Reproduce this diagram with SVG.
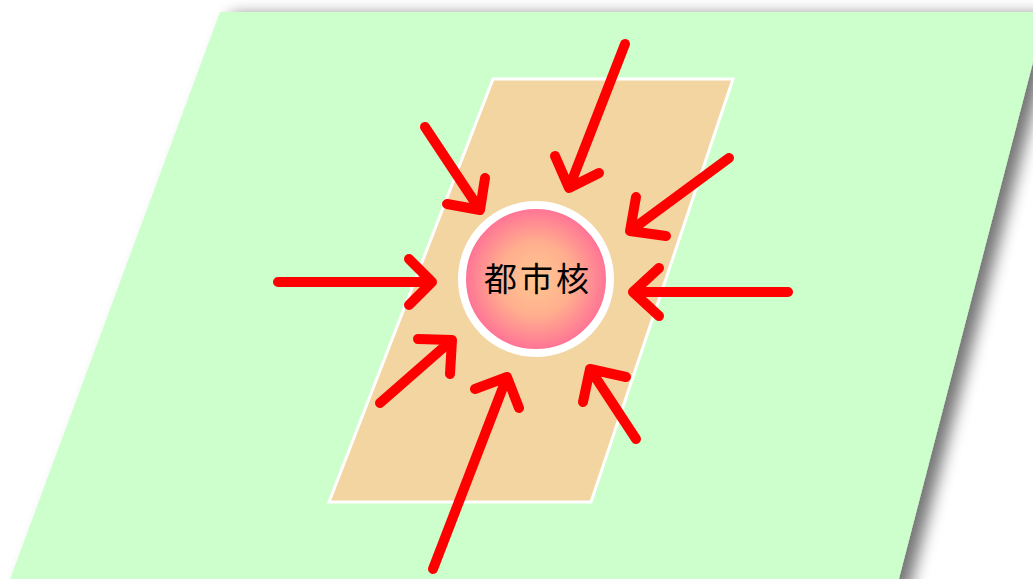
<svg xmlns="http://www.w3.org/2000/svg" width="1033" height="579" viewBox="0 0 1033 579">
  <style>
    .arrow { fill: none; stroke: #FF0000; stroke-width: 10; stroke-linecap: round; stroke-linejoin: round; }
    .label { font-family: "Noto Sans CJK JP", "Noto Sans CJK SC", sans-serif; font-size: 33px; fill: #000000; letter-spacing: 3px; }
  </style>
  <defs>
    <filter id="shadow" x="-10%" y="-10%" width="130%" height="130%">
      <feGaussianBlur in="SourceAlpha" stdDeviation="8"/>
      <feOffset dx="12" dy="3" result="b"/>
      <feComponentTransfer><feFuncA type="linear" slope="0.55"/></feComponentTransfer>
      <feMerge><feMergeNode/><feMergeNode in="SourceGraphic"/></feMerge>
    </filter>
    <radialGradient id="core" cx="50%" cy="50%" r="50%">
      <stop offset="0" stop-color="#FFC790"/>
      <stop offset="0.5" stop-color="#FFAE8E"/>
      <stop offset="1" stop-color="#FF6E96"/>
    </radialGradient>
  </defs>
  <rect width="1033" height="579" fill="#FFFFFF"/>
  <g id="ground">
    <polygon points="220,12 1046,12 896,590 6,590" fill="#CCFFCC" filter="url(#shadow)"/>
  </g>
  <g id="zone">
    <polygon points="493,79 733,79 591,502 329,502" fill="#F3D5A2" stroke="#FFFFFF" stroke-width="3"/>
  </g>
  <g id="core-node">
    <circle cx="536" cy="279" r="74" fill="url(#core)" stroke="#FFFFFF" stroke-width="8"/>
    <text class="label" x="538" y="291" text-anchor="middle">都市核</text>
  </g>
  <g id="connectors">
    <path class="arrow" d="M625,44 L569,188 M555,156 L569,188 L599,173"/>
    <path class="arrow" d="M729,158 L630,231 M636,197 L630,231 L666,236"/>
    <path class="arrow" d="M788,292 L633,292 M659,268 L633,292 L659,316"/>
    <path class="arrow" d="M636,439 L590,369 M626,377 L590,369 L583,402"/>
    <path class="arrow" d="M433,569 L507,377 M475,389 L507,377 L519,408"/>
    <path class="arrow" d="M380,403 L452,340 M418,339 L452,340 L450,374"/>
    <path class="arrow" d="M278,282 L432,282 M409,259 L432,282 L409,305"/>
    <path class="arrow" d="M425,127 L480,210 M485,178 L480,210 L447,204"/>
  </g>
</svg>
